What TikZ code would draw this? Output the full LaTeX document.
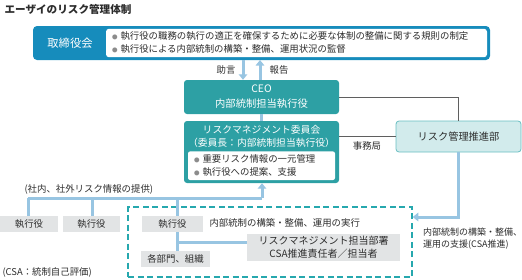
\documentclass[tikz,border=0pt]{standalone}
\usepackage{fontspec}
\setmainfont{Noto Sans CJK JP}
\usepackage{tikz}
\usetikzlibrary{arrows.meta,positioning}

\definecolor{boardblue}{RGB}{22,140,188}
\definecolor{tealbox}{RGB}{45,160,164}
\definecolor{teallight}{RGB}{210,235,236}
\definecolor{tealedge}{RGB}{105,190,194}
\definecolor{tealdash}{RGB}{38,168,174}
\definecolor{linkblue}{RGB}{152,197,226}
\definecolor{boxgray}{RGB}{226,228,229}
\definecolor{textgray}{RGB}{45,45,45}
\definecolor{bulgray}{RGB}{140,140,140}
\definecolor{linegray}{RGB}{95,95,95}

\newcommand{\bul}{{\color{bulgray}\fontsize{5.5}{5}\selectfont ●}\hspace{3pt}}

\begin{document}
\begin{tikzpicture}[x=1pt, y=-1pt,
    font=\fontsize{9.4}{13}\selectfont, text=textgray,
    tealnode/.style={fill=tealbox, rounded corners=3pt, text=white, align=center},
    graybox/.style={fill=boxgray, inner sep=0pt, minimum height=16pt},
    link/.style={draw=linkblue, line width=3pt},
    bluearrow/.style={-{Triangle[width=8.5pt,length=5.5pt]}},
    grayline/.style={draw=linegray, line width=0.9pt}]
    \useasboundingbox (0,0) rectangle (522,279);

    \node[anchor=west, font=\fontsize{10.6}{12}\selectfont\bfseries] (title) at (1,9) {エーザイのリスク管理体制};

    % board
    \node[fill=boardblue, rounded corners=4pt, minimum width=457pt, minimum height=34pt] (board) at (261.5,43) {};
    \node[text=white, font=\fontsize{11.3}{13}\selectfont] (boardlbl) at (70,43) {取締役会};
    \node[fill=white, rounded corners=3pt, anchor=east, minimum height=28pt, inner xsep=6pt,
        text width=369pt, align=left] (boardtxt) at ([xshift=-3pt]board.east)
        {\bul 執行役の職務の執行の適正を確保するために必要な体制の整備に関する規則の制定\\
         \bul 執行役による内部統制の構築・整備、運用状況の監督};

    % CEO and committee
    \node[tealnode, minimum width=155pt, minimum height=34pt, font=\fontsize{10.3}{15}\selectfont] (ceo) at (261.5,97) {CEO\\内部統制担当執行役};
    \node[tealnode, minimum width=155pt, minimum height=62pt] (rmc) at (261.5,152) {};
    \node[text=white, align=center, font=\fontsize{9.8}{13}\selectfont] (rmctitle) at (261.5,136.5)
        {リスクマネジメント委員会\\（委員長：内部統制担当執行役）};
    \node[fill=white, rounded corners=2pt, anchor=south, minimum height=27pt, inner xsep=6pt,
        text width=135pt, align=left] (rmcbody) at ([yshift=3pt]rmc.south)
        {\bul 重要リスク情報の一元管理\\ \bul 執行役への提案、支援};

    \node[fill=teallight, draw=tealedge, line width=0.8pt, rounded corners=3pt, minimum width=125pt,
        minimum height=31pt, font=\fontsize{10.2}{12}\selectfont] (rmd) at (458.5,136.5) {リスク管理推進部};

    % lower part
    \node[draw=tealdash, line width=1.5pt, dash pattern=on 6pt off 3.5pt, minimum width=284pt,
        minimum height=70pt] (frame) at (270,242) {};
    \node[graybox, minimum width=58pt] (ex1) at (29,224) {執行役};
    \node[graybox, minimum width=57pt] (ex2) at (91.5,224) {執行役};
    \node[graybox, minimum width=61pt] (ex3) at (172.5,224) {執行役};
    \node[graybox, minimum width=69pt] (dept) at (175.5,259) {各部門、組織};
    \node[graybox, minimum width=153pt, minimum height=27pt, align=center, font=\fontsize{10}{13}\selectfont] (rmstaff) at (323.5,247.5)
        {リスクマネジメント担当部署\\CSA推進責任者／担当者};

    \node[anchor=west] (execlbl) at (206,223) {内部統制の構築・整備、運用の実行};
    \node[anchor=west] (infolbl) at (21,189) {(社内、社外リスク情報の提供)};
    \node[anchor=west] (csalbl) at (-1,272) {(CSA：統制自己評価)};
    \node[anchor=west, align=left, inner xsep=0pt, font=\fontsize{9}{12}\selectfont] (supportlbl) at (423,238.5) {内部統制の構築・整備、\\運用の支援(CSA推進)};
    \node (adv) at (226,70) {助言};
    \node (rep) at (279,70) {報告};
    \node (sec) at (367,146) {事務局};

    % connectors
    \coordinate (advtop) at (243,60);
    \coordinate (reptop) at (260,60);
    \draw[link, bluearrow] (advtop) -- (advtop |- ceo.north);
    \draw[link, bluearrow] (reptop |- ceo.north) -- (reptop);
    \draw[link] (ceo.south) -- (rmc.north);
    \draw[grayline] (ceo.east) -| (rmd.north);
    \draw[grayline] (rmc.east |- rmd.west) -- (rmd.west);

    \coordinate (hub) at (262,198);
    \coordinate (j1) at (28,198);
    \coordinate (j2) at (92,198);
    \coordinate (j3) at (177,198);
    \coordinate (br) at (177,242);
    \coordinate (sup) at (459,217);
    \draw[link] (j1) -- (hub);
    \draw[link, bluearrow] (hub) -- (hub |- rmc.south);
    \draw[link] (j1) -- (j1 |- ex1.north);
    \draw[link] (j2) -- (j2 |- ex2.north);
    \draw[link] (j3) -- (j3 |- ex3.north);
    \draw[link] (j3 |- ex3.south) -- (j3 |- dept.north);
    \draw[link] (br) -- (br -| rmstaff.west);
    \draw[link, bluearrow] (rmd.south) |- (frame.east |- sup);
\end{tikzpicture}
\end{document}
